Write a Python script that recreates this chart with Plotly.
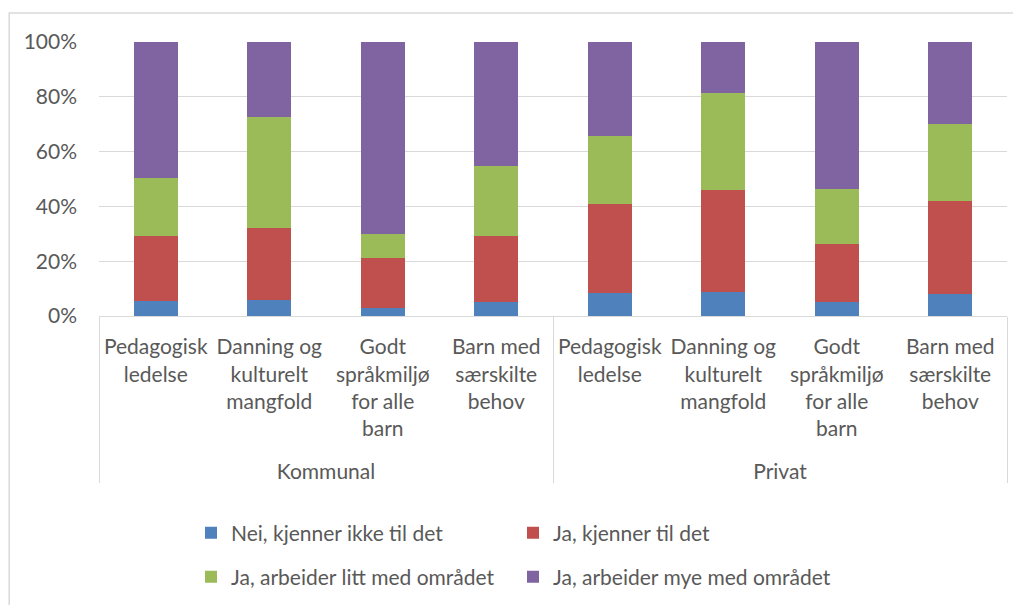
import plotly.graph_objects as go

groups = ["<br>Kommunal"] * 4 + ["<br>Privat"] * 4
categories = ["Pedagogisk<br>ledelse", "Danning og<br>kulturelt<br>mangfold",
              "Godt<br>språkmiljø<br>for alle<br>barn", "Barn med<br>særskilte<br>behov"] * 2

series_names = ["Nei, kjenner ikke til det", "Ja, kjenner til det",
                "Ja, arbeider litt med området", "Ja, arbeider mye med området"]
nei = [5.5, 5.9, 3.0, 5.0, 8.4, 8.8, 5.0, 8.1]
ja_kjenner = [23.7, 26.4, 18.2, 24.2, 32.3, 37.2, 21.2, 33.9]
ja_litt = [21.1, 40.3, 8.6, 25.7, 24.9, 35.3, 20.1, 28.2]
ja_mye = [49.7, 27.4, 70.2, 45.1, 34.4, 18.7, 53.7, 29.8]

colors = ["#4F81BD", "#C0504D", "#9BBB59", "#8064A2"]
font_family = "Lato, Carlito, Calibri, sans-serif"
text_color = "#595959"

fig = go.Figure()
for i, (name, vals) in enumerate(zip(series_names, [nei, ja_kjenner, ja_litt, ja_mye])):
    fig.add_trace(go.Bar(
        x=[groups, categories], y=vals, name=name,
        marker=dict(color=colors[i], line=dict(width=0)),
        legend="legend" if i < 2 else "legend2",
    ))

# page body has an 8px margin, so the figure is 8px smaller than the window
W, H = 1013, 597
OFF = 8

legend_common = dict(orientation="h", xanchor="left", yanchor="middle",
                     xref="container", yref="container",
                     font=dict(family=font_family, size=21, color=text_color),
                     entrywidth=277, bgcolor="rgba(0,0,0,0)", traceorder="normal")

ml, mr, mt, mb = 99 - OFF, W - (1007 - OFF), 42 - OFF, H - (316 - OFF)
pw, ph = W - ml - mr, H - mt - mb

fig.update_layout(
    width=W, height=H,
    barmode="stack", bargap=0.616,
    margin=dict(l=ml, r=mr, t=mt, b=mb, autoexpand=False),
    plot_bgcolor="white", paper_bgcolor="white",
    font=dict(family=font_family, size=21, color=text_color),
    showlegend=True,
    legend=dict(x=(191 - OFF) / W, y=1 - (533 - OFF) / H, **legend_common),
    legend2=dict(x=(191 - OFF) / W, y=1 - (577 - OFF) / H, **legend_common),
    yaxis=dict(range=[0, 100], dtick=20, ticksuffix="%", showgrid=True,
               gridcolor="#D9D9D9", gridwidth=1.3, zeroline=False, showline=False,
               ticklabelstandoff=21, tickfont=dict(size=21, color=text_color)),
    xaxis=dict(type="multicategory", showgrid=False, showline=True,
               linecolor="#D9D9D9", linewidth=1.3, ticks="", showdividers=True,
               dividercolor="#D9D9D9", dividerwidth=1.3, ticklabelstandoff=12,
               tickfont=dict(size=21, color=text_color)),
    shapes=[dict(type="rect", xref="paper", yref="paper",
                 x0=(8 - 99 + 1.2) / pw, x1=1.2, y0=-1.5, y1=1 + (42 - 13) / ph,
                 line=dict(color="#D9D9D9", width=1.5), fillcolor="rgba(0,0,0,0)",
                 layer="below")],
)

fig.write_html("out.html")
